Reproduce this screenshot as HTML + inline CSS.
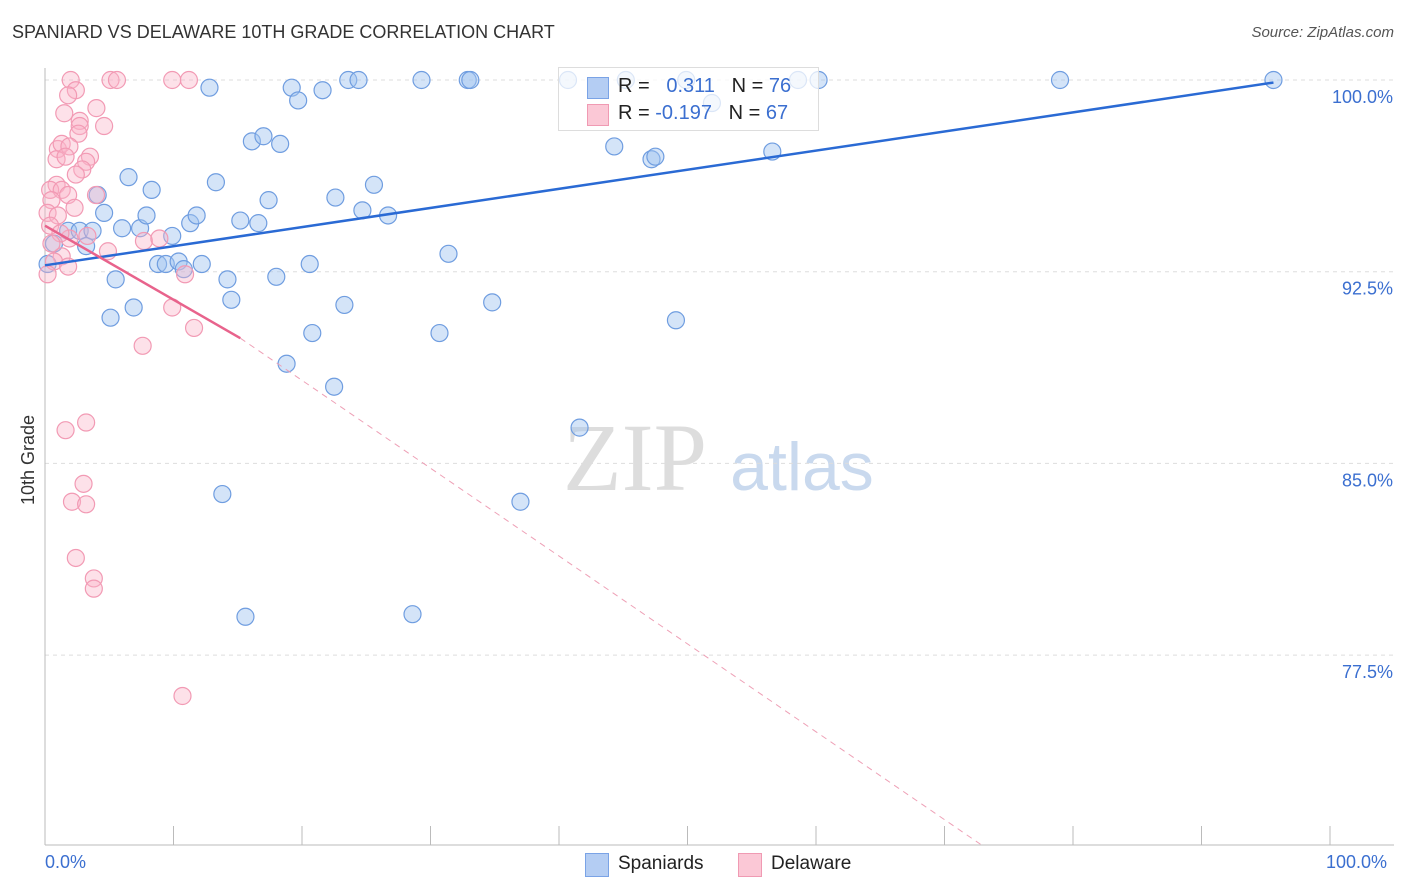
<!DOCTYPE html>
<html><head><meta charset="utf-8">
<style>
body{margin:0;background:#fff;font-family:"Liberation Sans",sans-serif;}
#wrap{position:relative;width:1406px;height:892px;overflow:hidden;}
.t{position:absolute;white-space:nowrap;}
</style></head>
<body>
<div id="wrap">
<div class="t" style="left:12px;top:22px;font-size:18px;color:#333;">SPANIARD VS DELAWARE 10TH GRADE CORRELATION CHART</div>
<div class="t" style="right:12px;top:24px;font-size:15px;color:#555;font-style:italic;">Source: ZipAtlas.com</div>
<svg id="svg" width="1406" height="892" style="position:absolute;left:0;top:0">
<text x="635" y="490" font-size="96" font-family="Liberation Serif,serif" fill="#ddd" text-anchor="middle">ZIP</text>
<text x="802" y="490" font-size="68" font-family="Liberation Sans,sans-serif" fill="#c9d9ee" text-anchor="middle">atlas</text>
</svg>
<div class="t" style="left:18px;top:455px;transform:rotate(-90deg);transform-origin:left top;font-size:18px;color:#333;top:505px;">10th Grade</div>
<div class="t" style="left:45px;top:852px;font-size:18px;color:#3b6fd0;">0.0%</div>
<div class="t" style="left:1326px;top:852px;font-size:18px;color:#3b6fd0;">100.0%</div>
<div style="position:absolute;left:558px;top:67px;width:259px;height:62px;border:1px solid #ddd;background:rgba(255,255,255,0.75);font-size:20px;">
 <div style="position:absolute;left:28px;top:9px;width:20px;height:20px;background:#b4cdf3;border:1px solid #7aa3e6"></div>
 <div class="t" style="left:59px;top:7px;color:#222">R = &nbsp;&nbsp;<span style="color:#3b6fd0">0.311</span>&nbsp;&nbsp; N = <span style="color:#3b6fd0">76</span></div>
 <div style="position:absolute;left:28px;top:36px;width:20px;height:20px;background:#fbc8d6;border:1px solid #f09ab3"></div>
 <div class="t" style="left:59px;top:34px;color:#222">R = <span style="color:#3b6fd0">-0.197</span>&nbsp;&nbsp; N = <span style="color:#3b6fd0">67</span></div>
</div>
<div>
 <div style="position:absolute;left:585px;top:853px;width:22px;height:22px;background:#b4cdf3;border:1px solid #7aa3e6"></div>
 <div class="t" style="left:618px;top:853px;font-size:19px;color:#222">Spaniards</div>
 <div style="position:absolute;left:738px;top:853px;width:22px;height:22px;background:#fbc8d6;border:1px solid #f09ab3"></div>
 <div class="t" style="left:771px;top:853px;font-size:19px;color:#222">Delaware</div>
</div>
</div>
<script>
const yTicks=[100,92.5,85,77.5];
const blueX=[0.7,0.2,1.8,2.7,3.2,3.7,4.1,4.6,5.1,5.5,6.0,6.5,6.9,7.4,7.9,8.3,8.8,9.4,9.9,10.4,10.8,11.3,11.8,12.2,12.8,13.3,13.8,14.2,14.5,15.2,15.6,16.1,16.6,17.0,17.4,18.0,18.3,18.8,19.2,19.7,20.6,20.8,21.6,22.5,22.6,23.3,23.6,24.4,24.7,25.6,26.7,28.6,29.3,30.7,31.4,32.9,33.1,34.8,37.0,40.7,41.6,44.3,45.2,47.2,47.5,49.1,49.9,51.9,56.6,58.6,60.2,78.99,95.6];
const blueY=[93.6,92.8,94.1,94.1,93.5,94.1,95.5,94.8,90.7,92.2,94.2,96.2,91.1,94.2,94.7,95.7,92.8,92.8,93.9,92.9,92.6,94.4,94.7,92.8,99.7,96.0,83.8,92.2,91.4,94.5,79.0,97.6,94.4,97.8,95.3,92.3,97.5,88.9,99.7,99.2,92.8,90.1,99.6,88.0,95.4,91.2,100,100,94.9,95.9,94.7,79.1,100,90.1,93.2,100,100,91.3,83.5,100,86.4,97.4,100,96.9,97.0,90.6,100,99.1,97.2,100,100,100,100];
const pinkX=[2.0,5.1,5.6,9.9,11.2,2.4,1.8,1.5,4.0,2.7,2.7,4.6,2.6,1.0,1.3,1.9,0.9,1.6,3.5,3.2,2.9,2.4,0.9,0.4,1.3,3.970,1.8,0.5,0.2,1.0,2.3,0.4,3.3,1.9,1.3,0.7,1.8,0.2,4.9,7.7,8.9,10.9,11.6,9.9,7.6,3.2,1.6,2.1,3.2,3.0,2.4,3.8,3.8,10.7,1.2,0.5];
const pinkY=[100,100,100,100,100,99.6,99.4,98.7,98.9,98.4,98.2,98.2,97.9,97.3,97.5,97.4,96.9,97.0,97.0,96.8,96.5,96.3,95.9,95.7,95.7,95.5,95.5,95.3,94.8,94.7,95.0,94.3,93.9,93.8,93.1,92.9,92.7,92.4,93.3,93.7,93.8,92.4,90.3,91.1,89.6,86.6,86.3,83.5,83.4,84.2,81.3,80.5,80.1,75.9,94.0,93.6];
const blueTrend=[[0,92.75],[95.6,99.9]];
const pinkTrendSolid=[[0,94.3],[15.2,89.9]];
const pinkTrendDash=[[15.2,89.9],[72.8,70.1]];
const NS='http://www.w3.org/2000/svg';
const svg=document.getElementById('svg');
const X0=45,X1=1330,YT=80,PX=191.7/7.5;
const xs=v=>X0+(X1-X0)*v/100;
const ys=v=>YT+(100-v)*PX;
function mk(t,a){const e=document.createElementNS(NS,t);for(const k in a)e.setAttribute(k,a[k]);svg.appendChild(e);return e;}
yTicks.forEach((t,i)=>{
 const g=mk('line',{x1:45,x2:1394,y1:ys(t),y2:ys(t),stroke:'#ddd','stroke-dasharray':'4,4'});
 
 
 const tx=mk('text',{x:1393,y:ys(t)+23,'font-size':18,fill:'#3b6fd0','text-anchor':'end','font-family':'Liberation Sans,sans-serif'});
 tx.textContent=t.toFixed(1)+'%';
 
 
});
const ax=mk('line',{x1:45,x2:45,y1:68,y2:845,stroke:'#bbb'});


const bx=mk('line',{x1:45,x2:1394,y1:845,y2:845,stroke:'#bbb'});


for(let i=0;i<=10;i++){const t=mk('line',{x1:xs(i*10),x2:xs(i*10),y1:826,y2:845,stroke:'#bbb'});
 
 }
blueX.forEach((v,i)=>{const c=mk('circle',{cx:xs(v),cy:ys(blueY[i]),r:8.5,fill:'rgba(160,195,240,0.45)',stroke:'#6f9de0','stroke-width':1.2});
 
 });
pinkX.forEach((v,i)=>{const c=mk('circle',{cx:xs(v),cy:ys(pinkY[i]),r:8.5,fill:'rgba(250,180,200,0.4)',stroke:'#f29ab4','stroke-width':1.2});
 
 });
const l1=mk('line',{x1:xs(blueTrend[0][0]),y1:ys(blueTrend[0][1]),x2:xs(blueTrend[1][0]),y2:ys(blueTrend[1][1]),stroke:'#2a6ad4','stroke-width':2.5});


const l2=mk('line',{x1:xs(pinkTrendSolid[0][0]),y1:ys(pinkTrendSolid[0][1]),x2:xs(pinkTrendSolid[1][0]),y2:ys(pinkTrendSolid[1][1]),stroke:'#e8638c','stroke-width':2.5});


const l3=mk('line',{x1:xs(pinkTrendDash[0][0]),y1:ys(pinkTrendDash[0][1]),x2:xs(pinkTrendDash[1][0]),y2:ys(pinkTrendDash[1][1]),stroke:'#eea0b6','stroke-width':1,'stroke-dasharray':'6,5'});


</script>
</body></html>
